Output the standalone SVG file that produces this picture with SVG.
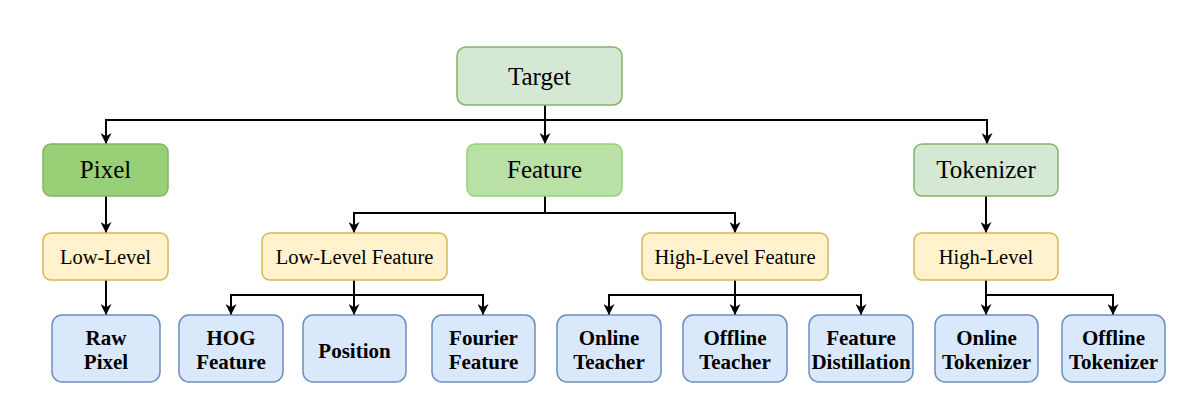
<svg xmlns="http://www.w3.org/2000/svg" width="1190" height="400" viewBox="0 0 1190 400">
<style>
text{font-family:"Liberation Serif","Times New Roman",serif;fill:#000;text-anchor:middle}
.g{font-size:25px}
.y{font-size:20.5px}
.b{font-size:21px;font-weight:bold}
.lg{fill:#d5e8d4;stroke:#82b366;stroke-width:1.5}
.dg{fill:#97d077;stroke:#82b366;stroke-width:1.5}
.mg{fill:#b9e0a5;stroke:#97d077;stroke-width:1.5}
.yl{fill:#fff2cc;stroke:#d6b656;stroke-width:1.5}
.bl{fill:#dae8fc;stroke:#6c8ebf;stroke-width:1.5}
.e{fill:none;stroke:#000;stroke-width:2;marker-end:url(#arr)}
</style>
<defs>
<marker id="arr" markerUnits="userSpaceOnUse" viewBox="0 0 10 10" markerWidth="11" markerHeight="11" refX="10" refY="5" orient="auto">
<path d="M0,0 L10,5 L0,10 L3,5 z" fill="#000"/>
</marker>
</defs>
<g id="connectors">
<path class="e" d="M545,105 V120 H106 V144"/>
<path class="e" d="M545,105 V144"/>
<path class="e" d="M545,105 V120 H987 V144"/>
<path class="e" d="M106,196 V233"/>
<path class="e" d="M106,280 V315"/>
<path class="e" d="M545,196 V213 H354 V233"/>
<path class="e" d="M545,196 V213 H735 V233"/>
<path class="e" d="M354,280 V295 H231 V315"/>
<path class="e" d="M354,280 V315"/>
<path class="e" d="M354,280 V295 H483 V315"/>
<path class="e" d="M735,280 V295 H609 V315"/>
<path class="e" d="M735,280 V315"/>
<path class="e" d="M735,280 V295 H861 V315"/>
<path class="e" d="M986,196 V233"/>
<path class="e" d="M986,280 V315"/>
<path class="e" d="M986,280 V295 H1113 V315"/>
</g>
<g id="target"><rect class="lg" x="457" y="47" width="165" height="58" rx="9"/><text class="g" x="539.5" y="85">Target</text></g>
<g id="pixel"><rect class="dg" x="43" y="144" width="125" height="52" rx="8"/><text class="g" x="105.5" y="178">Pixel</text></g>
<g id="feature"><rect class="mg" x="467" y="144" width="155" height="52" rx="8"/><text class="g" x="544.5" y="178">Feature</text></g>
<g id="tokenizer"><rect class="lg" x="914" y="144" width="144" height="52" rx="8"/><text class="g" x="986" y="178">Tokenizer</text></g>
<g id="low-level"><rect class="yl" x="43" y="233" width="125" height="47" rx="8"/><text class="y" x="105.5" y="264">Low-Level</text></g>
<g id="low-level-feature"><rect class="yl" x="262" y="233" width="185" height="47" rx="8"/><text class="y" x="354.5" y="264">Low-Level Feature</text></g>
<g id="high-level-feature"><rect class="yl" x="642" y="233" width="186" height="47" rx="8"/><text class="y" x="735" y="264">High-Level Feature</text></g>
<g id="high-level"><rect class="yl" x="914" y="233" width="144" height="47" rx="8"/><text class="y" x="986" y="264">High-Level</text></g>
<g id="raw-pixel"><rect class="bl" x="52" y="315" width="108" height="67" rx="10"/><text class="b" x="106" y="345">Raw</text><text class="b" x="106" y="369">Pixel</text></g>
<g id="hog-feature"><rect class="bl" x="179" y="315" width="104" height="67" rx="10"/><text class="b" x="231" y="345">HOG</text><text class="b" x="231" y="369">Feature</text></g>
<g id="position"><rect class="bl" x="303" y="315" width="103" height="67" rx="10"/><text class="b" x="354.5" y="358">Position</text></g>
<g id="fourier-feature"><rect class="bl" x="432" y="315" width="103" height="67" rx="10"/><text class="b" x="483.5" y="345">Fourier</text><text class="b" x="483.5" y="369">Feature</text></g>
<g id="online-teacher"><rect class="bl" x="557" y="315" width="104" height="67" rx="10"/><text class="b" x="609" y="345">Online</text><text class="b" x="609" y="369">Teacher</text></g>
<g id="offline-teacher"><rect class="bl" x="683" y="315" width="104" height="67" rx="10"/><text class="b" x="735" y="345">Offline</text><text class="b" x="735" y="369">Teacher</text></g>
<g id="feature-distillation"><rect class="bl" x="809" y="315" width="104" height="67" rx="10"/><text class="b" x="861" y="345">Feature</text><text class="b" x="861" y="369">Distillation</text></g>
<g id="online-tokenizer"><rect class="bl" x="935" y="315" width="103" height="67" rx="10"/><text class="b" x="986.5" y="345">Online</text><text class="b" x="986.5" y="369">Tokenizer</text></g>
<g id="offline-tokenizer"><rect class="bl" x="1062" y="315" width="103" height="67" rx="10"/><text class="b" x="1113.5" y="345">Offline</text><text class="b" x="1113.5" y="369">Tokenizer</text></g>
</svg>
